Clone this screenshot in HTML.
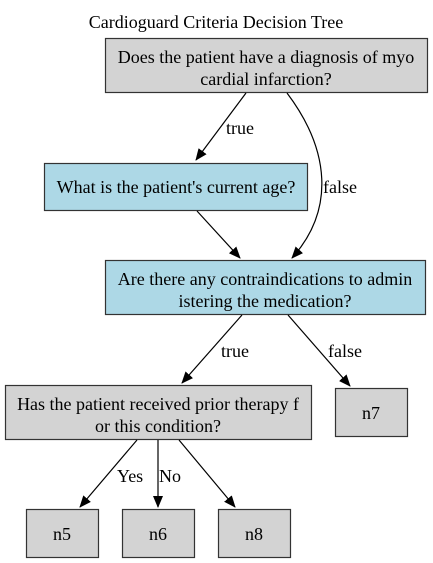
<!DOCTYPE html>
<html><head><meta charset="utf-8"><style>
html,body{margin:0;padding:0;background:#fff;width:433px;height:563px;overflow:hidden}
svg text{font-family:"Liberation Serif",serif;font-size:18px;fill:#000}
</style></head><body>
<svg width="433" height="563" viewBox="0 0 433 563" xmlns="http://www.w3.org/2000/svg">
<defs><marker id="a" markerWidth="12" markerHeight="10" refX="11" refY="5" orient="auto" markerUnits="userSpaceOnUse"><path d="M0,0 L12,5 L0,10 z" fill="#000"/></marker></defs>
<text x="216" y="28" text-anchor="middle">Cardioguard Criteria Decision Tree</text>
<g stroke="#333" stroke-width="1.2">
<rect x="105.5" y="38.5" width="322" height="54" fill="#d3d3d3"/>
<rect x="44.5" y="163.5" width="263" height="47" fill="#add8e6"/>
<rect x="105.5" y="260.5" width="320" height="54" fill="#add8e6"/>
<rect x="5.5" y="385.5" width="306" height="54" fill="#d3d3d3"/>
<rect x="335.5" y="388.5" width="72" height="48" fill="#d3d3d3"/>
<rect x="26.5" y="509.5" width="72" height="48" fill="#d3d3d3"/>
<rect x="122.5" y="509.5" width="72" height="48" fill="#d3d3d3"/>
<rect x="218.5" y="509.5" width="72" height="48" fill="#d3d3d3"/>
</g>
<text x="266" y="63" text-anchor="middle">Does the patient have a diagnosis of myo</text>
<text x="266" y="85" text-anchor="middle">cardial infarction?</text>
<text x="176" y="193" text-anchor="middle">What is the patient's current age?</text>
<text x="265" y="285" text-anchor="middle">Are there any contraindications to admin</text>
<text x="265" y="307" text-anchor="middle">istering the medication?</text>
<text x="158" y="410" text-anchor="middle">Has the patient received prior therapy f</text>
<text x="158" y="432" text-anchor="middle">or this condition?</text>
<text x="371" y="419" text-anchor="middle">n7</text>
<text x="62" y="540" text-anchor="middle">n5</text>
<text x="158" y="540" text-anchor="middle">n6</text>
<text x="254" y="540" text-anchor="middle">n8</text>
<g stroke="#000" stroke-width="1.2" fill="none" marker-end="url(#a)">
<path d="M246,93 L196,160"/>
<path d="M287,93 C330,150 335,210 292,258"/>
<path d="M197,211 L240,258"/>
<path d="M242,315 L182,383"/>
<path d="M288,315 L350,386"/>
<path d="M137,440 L80,507"/>
<path d="M158,440 L158,507"/>
<path d="M179,440 L235,507"/>
</g>
<text x="226" y="134">true</text>
<text x="323" y="193">false</text>
<text x="221" y="357">true</text>
<text x="328" y="357">false</text>
<text x="117" y="482">Yes</text>
<text x="159" y="482">No</text>
</svg>
</body></html>
